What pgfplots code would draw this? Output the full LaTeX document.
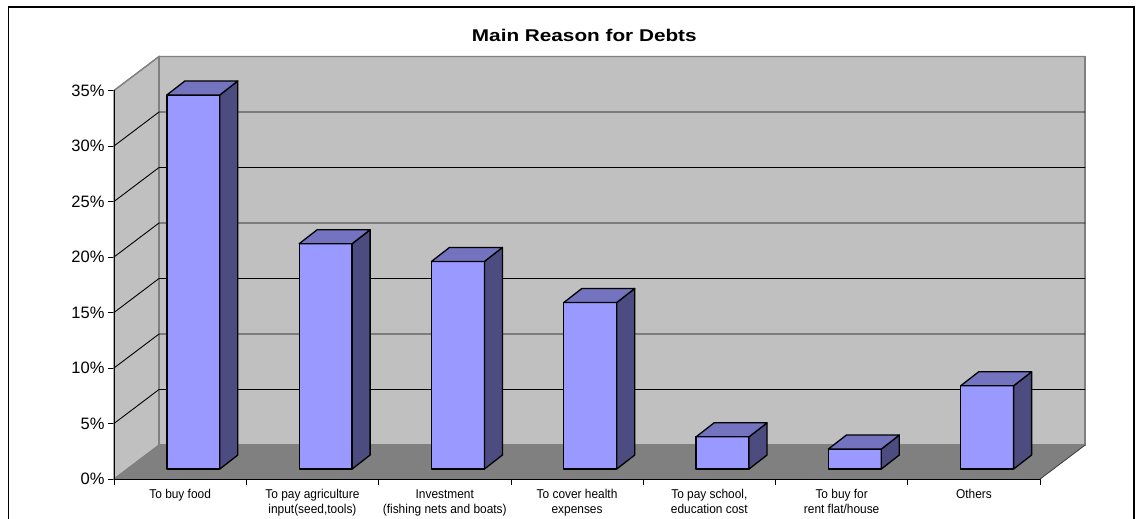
\documentclass[border=0pt]{standalone}
\usepackage{pgfplots}
\usepackage{pgfplotstable}
\pgfplotsset{compat=1.18}
\usepackage{fontspec}
\setmainfont{Liberation Sans}
\newfontfamily\titlefont{Liberation Sans}[FakeStretch=1.22]
\newfontfamily\xlabfont{Liberation Sans}[FakeStretch=0.93]
\definecolor{barfront}{RGB}{153,153,255}
\definecolor{bartop}{RGB}{115,115,192}
\definecolor{barside}{RGB}{76,76,128}
\definecolor{wallc}{RGB}{192,192,192}
\definecolor{floorc}{RGB}{128,128,128}
\definecolor{edgec}{RGB}{128,128,128}

\pgfplotstableread{
idx v
0 33.7
1 20.3
2 18.7
3 15.0
4 2.9
5 1.8
6 7.5
}\debts

% draws one 3-D bar: #1 = category index, #2 = value (percent)
\newcommand{\cuboid}[2]{%
  \pgfmathsetmacro\cbXa{#1+0.40}%
  \pgfmathsetmacro\cbXb{#1+0.80}%
  \pgfmathsetmacro\cbXc{#1+0.936}%
  \pgfmathsetmacro\cbXd{#1+0.536}%
  \pgfmathsetmacro\cbYt{#2+0.9}%
  \pgfmathsetmacro\cbYu{#2+2.16}%
  \addplot[fill=barfront, draw=black, line width=1.3pt, line join=round]
    coordinates {(\cbXa,0.9) (\cbXb,0.9) (\cbXb,\cbYt) (\cbXa,\cbYt)} -- cycle;
  \addplot[fill=barside, draw=black, line width=1.3pt, line join=round]
    coordinates {(\cbXb,0.9) (\cbXc,2.16) (\cbXc,\cbYu) (\cbXb,\cbYt)} -- cycle;
  \addplot[fill=bartop, draw=black, line width=1.3pt, line join=round]
    coordinates {(\cbXa,\cbYt) (\cbXb,\cbYt) (\cbXc,\cbYu) (\cbXd,\cbYu)} -- cycle;
}

\begin{document}
\begin{tikzpicture}
\path[use as bounding box] (-114pt,-40pt) rectangle (1022pt,479pt);
\draw[black, line width=1.2pt] (-105.5pt,-80pt) -- (-105.5pt,472pt) -- (1020pt,472pt) -- (1020pt,-80pt);
\begin{axis}[
  x=132.3pt, y=11.1pt,
  xmin=0, xmax=7.34, ymin=0, ymax=38.06,
  axis line style={draw=none},
  clip=false,
  xtick={0,1,...,7},
  xticklabels={To buy food,
    {To pay agriculture\\input(seed,tools)},
    {Investment\\(fishing nets and boats)},
    {To cover health\\expenses},
    {To pay school,\\education cost},
    {To buy for\\rent flat/house},
    Others, {}},
  xticklabel style={xshift=66.15pt, yshift=-1pt, align=center,
    font=\xlabfont\fontsize{12.8}{15}\selectfont},
  ytick={0,5,...,35},
  yticklabels={0\%,5\%,10\%,15\%,20\%,25\%,30\%,35\%},
  yticklabel style={font=\fontsize{16.5}{19}\selectfont},
  xtick pos=bottom, ytick pos=left,
  tick align=outside,
  major tick length=6pt,
  tick style={black, line width=0.8pt},
]
% walls and floor
\addplot[fill=wallc, draw=edgec, line width=1.2pt]
  coordinates {(0,0) (0.34,3.06) (0.34,38.06) (0,35)} -- cycle;
\addplot[fill=wallc, draw=edgec, line width=1.2pt]
  coordinates {(0.34,3.06) (7.34,3.06) (7.34,38.06) (0.34,38.06)} -- cycle;
\addplot[fill=floorc, draw=floorc, line width=0.6pt]
  coordinates {(0,0) (7,0) (7.34,3.06) (0.34,3.06)} -- cycle;
% gridlines (side wall diagonal + back wall horizontal)
\addplot[black, line width=0.9pt] coordinates {(0,5) (0.34,8.06) (7.34,8.06)};
\addplot[black, line width=0.9pt] coordinates {(0,10) (0.34,13.06) (7.34,13.06)};
\addplot[black, line width=0.9pt] coordinates {(0,15) (0.34,18.06) (7.34,18.06)};
\addplot[black, line width=0.9pt] coordinates {(0,20) (0.34,23.06) (7.34,23.06)};
\addplot[black, line width=0.9pt] coordinates {(0,25) (0.34,28.06) (7.34,28.06)};
\addplot[black, line width=0.9pt] coordinates {(0,30) (0.34,33.06) (7.34,33.06)};
\addplot[edgec, line width=1.2pt] coordinates {(0,35) (0.34,38.06) (7.34,38.06)};
\addplot[black!75, line width=0.8pt] coordinates {(7,0) (7.34,3.06)};
% axis lines
\addplot[black, line width=0.9pt] coordinates {(0,0) (0,35)};
\addplot[black, line width=0.9pt] coordinates {(0,0) (7,0)};
% bars
\pgfplotsinvokeforeach{0,...,6}{%
  \pgfplotstablegetelem{#1}{v}\of\debts
  \cuboid{#1}{\pgfplotsretval}
}
\node[font=\titlefont\bfseries\fontsize{17}{20}\selectfont, anchor=base]
  at (axis cs:3.555,39.40) {Main Reason for Debts};
\end{axis}
\end{tikzpicture}
\end{document}
